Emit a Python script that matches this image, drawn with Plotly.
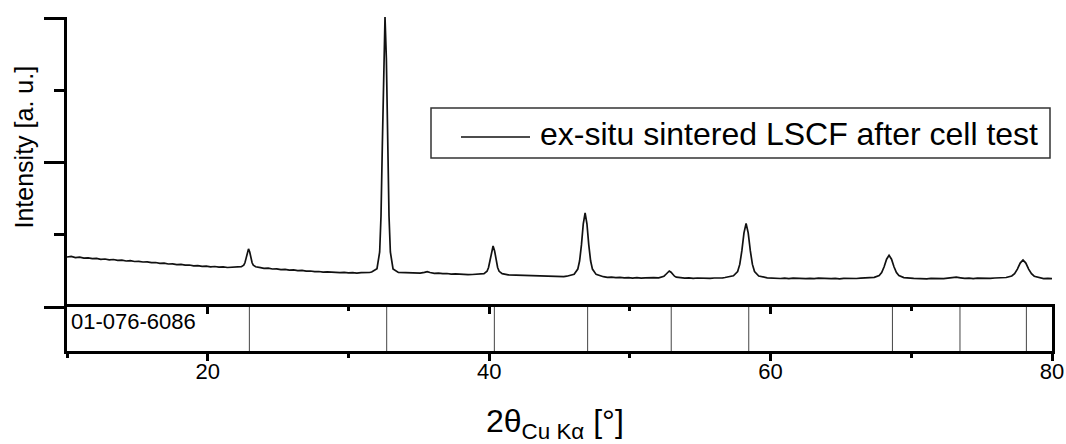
import plotly.graph_objects as go

# ---------------- data ----------------
# 2theta (deg) and intensity (arbitrary units; 0 = axis bottom, 290 = top of main peak)
two_theta = [
    10.0, 10.3, 10.6, 10.9, 11.2, 11.5, 11.8, 12.1, 12.4, 12.7, 13.0, 13.3, 13.6, 13.9, 14.2, 14.5,
    14.8, 15.1, 15.4, 15.7, 16.0, 16.3, 16.6, 16.9, 17.2, 17.5, 17.8, 18.1, 18.4, 18.7, 19.0, 19.3,
    19.6, 19.9, 20.2, 20.5, 20.8, 21.1, 21.4, 21.7, 22.05,
    22.39, 22.56, 22.645, 22.73, 22.815, 22.9, 22.985, 23.07, 23.155, 23.24, 23.41, 23.75,
    24.0, 24.3, 24.6, 24.9, 25.2, 25.5, 25.8, 26.1, 26.4, 26.7, 27.0, 27.3, 27.6, 27.9, 28.2, 28.5,
    28.8, 29.1, 29.4, 29.7, 30.0, 30.3, 30.6, 30.9, 31.2, 31.5,
    31.65, 32.03, 32.22, 32.315, 32.41, 32.505, 32.6, 32.695, 32.79, 32.885, 32.98, 33.17, 33.55,
    33.9, 34.2, 34.5, 34.8, 35.1, 35.4, 35.6, 35.8, 36.1, 36.4, 36.7, 37.0, 37.3, 37.6, 37.9, 38.2,
    38.5, 38.8,
    39.205, 39.635, 39.85, 39.9575, 40.065, 40.1725, 40.28, 40.3875, 40.495, 40.6025, 40.71, 40.925, 41.355,
    41.7, 42.0, 42.3, 42.6, 42.9, 43.2, 43.5, 43.8, 44.1, 44.4, 44.7, 45.0, 45.3,
    45.52, 46.04, 46.3, 46.43, 46.56, 46.69, 46.82, 46.95, 47.08, 47.21, 47.34, 47.6, 48.12,
    48.4, 48.7, 49.0, 49.3, 49.6, 49.9, 50.2, 50.5, 50.8, 51.1, 51.4, 51.7, 52.05,
    52.3, 52.425, 52.55, 52.675, 52.8, 52.925, 53.05, 53.175, 53.3, 53.55,
    53.9, 54.2, 54.5, 54.8, 55.1, 55.4, 55.7, 56.0, 56.3, 56.6,
    56.76, 57.36, 57.66, 57.81, 57.96, 58.11, 58.26, 58.41, 58.56, 58.71, 58.86, 59.16, 59.76,
    60.1, 60.4, 60.7, 61.0, 61.3, 61.6, 61.9, 62.2, 62.5, 62.8, 63.1, 63.4, 63.7, 64.0, 64.3, 64.6,
    64.9, 65.2, 65.5, 65.8, 66.1, 66.4,
    66.67, 67.37, 67.72, 67.895, 68.07, 68.245, 68.42, 68.595, 68.77, 68.945, 69.12, 69.47, 70.17,
    70.5, 70.8, 71.1, 71.4, 71.7, 72.0, 72.3, 72.6, 72.9, 73.2, 73.5, 73.8, 74.1, 74.4, 74.7, 75.0,
    75.3, 75.6,
    75.94, 76.74, 77.14, 77.34, 77.54, 77.74, 77.94, 78.14, 78.34, 78.54, 78.74, 79.14, 79.4, 79.7, 80.0,
]
intensity = [
    50.0, 50.6, 49.4, 49.8, 48.9, 49.2, 48.3, 48.6, 47.7, 48.0, 47.2, 47.5, 46.6, 46.8, 46.0, 46.3,
    45.5, 45.7, 45.0, 45.2, 44.3, 44.5, 43.7, 43.9, 43.0, 43.2, 42.4, 42.6, 41.8, 42.0, 41.1, 41.3,
    40.6, 40.8, 40.2, 40.5, 39.8, 40.1, 39.5, 39.8, 39.6,
    40.3, 41.8, 44.2, 48.9, 55.0, 58.1, 55.0, 48.9, 44.2, 41.8, 40.2, 39.3,
    38.6, 38.9, 38.0, 38.2, 37.4, 37.6, 36.9, 37.1, 36.4, 36.6, 35.8, 36.0, 35.3, 35.5, 34.9, 35.1,
    34.6, 34.8, 34.3, 34.6, 34.1, 34.4, 33.9, 34.3, 34.2, 34.5,
    35.0, 38.3, 55.0, 90.7, 162.0, 249.0, 290.0, 249.0, 162.0, 90.7, 55.0, 38.0, 34.6,
    34.4, 34.7, 34.1, 34.3, 33.9, 34.6, 35.4, 34.5, 33.7, 33.9, 33.3, 33.5, 32.9, 33.1, 32.6, 32.8,
    32.3, 32.5,
    32.6, 33.4, 35.7, 39.5, 46.7, 56.1, 61.0, 56.1, 46.7, 39.5, 35.7, 33.3, 32.2,
    32.0, 31.6, 31.9, 31.3, 31.5, 30.9, 31.2, 30.6, 30.9, 30.4, 30.6, 30.1, 30.4,
    30.8, 32.8, 37.9, 46.2, 62.1, 83.2, 94.0, 83.2, 62.1, 46.2, 37.9, 32.6, 30.3,
    29.6, 29.9, 29.3, 29.6, 29.1, 29.4, 28.9, 29.3, 28.8, 29.2, 28.9, 29.3, 29.2,
    29.9, 30.8, 32.5, 34.8, 36.0, 34.8, 32.5, 30.8, 29.8, 29.3,
    28.8, 29.1, 28.6, 29.0, 28.7, 29.1, 28.6, 29.0, 28.8, 29.2,
    29.5, 31.2, 35.5, 42.6, 56.3, 74.2, 83.5, 74.2, 56.3, 42.6, 35.5, 31.0, 29.2,
    28.7, 29.0, 28.5, 28.9, 28.4, 28.8, 28.5, 28.9, 28.4, 28.7, 28.3, 28.8, 28.4, 28.7, 28.3, 28.6,
    28.2, 28.7, 28.4, 28.8, 28.5, 28.9,
    28.9, 29.6, 31.5, 34.5, 40.2, 47.8, 51.7, 47.8, 40.2, 34.5, 31.4, 29.4, 28.6,
    28.3, 28.7, 28.2, 28.6, 28.3, 28.7, 28.4, 28.9, 29.3, 29.8, 29.2, 28.6, 28.9, 28.4, 28.8, 28.5,
    28.9, 28.6,
    29.0, 29.5, 31.0, 33.4, 37.9, 43.9, 47.0, 43.9, 37.9, 33.3, 30.8, 29.1, 28.4, 28.7, 28.3,
]

# reference pattern 01-076-6086 line positions (deg)
ref_positions = [22.96, 32.72, 40.37, 47.0, 52.94, 58.45, 68.66, 73.46, 78.18]
ref_label = "01-076-6086"
series_name = "ex-situ sintered LSCF after cell test"

x_ticks = [20, 40, 60, 80]
x_range = [10, 80]
y_range = [0, 290]

FONT = "Liberation Sans, Arial, sans-serif"

# ---------------- figure ----------------
fig = go.Figure()

fig.add_trace(go.Scatter(
    x=two_theta, y=intensity, mode="lines", name=series_name,
    line=dict(color="#111111", width=1.7), xaxis="x", yaxis="y", showlegend=False,
))

ref_x, ref_y = [], []
for p in ref_positions:
    ref_x += [p, p, None]
    ref_y += [0, 1, None]
fig.add_trace(go.Scatter(
    x=ref_x, y=ref_y, mode="lines", line=dict(color="#444444", width=1),
    xaxis="x2", yaxis="y2", showlegend=False, hoverinfo="skip",
))
# empty trace so the top (inward-tick) axis of the reference box is drawn
fig.add_trace(go.Scatter(x=[], y=[], mode="lines", xaxis="x3", yaxis="y2",
                         showlegend=False, hoverinfo="skip"))

W, H = 1066, 444
L, R, T, B = 67, 14, 17, 93
pw, ph = W - L - R, H - T - B
split = (351 - 307) / ph


def px(xp):
    return (xp - L) / pw


def py(yp):
    return (H - B - yp) / ph


axis_common = dict(showgrid=False, zeroline=False, color="black", automargin=False)
tick_style = dict(tickcolor="black", tickwidth=2.5)

fig.update_layout(
    width=W, height=H, autosize=False,
    margin=dict(l=L, r=R, t=T, b=B, pad=0),
    paper_bgcolor="white", plot_bgcolor="white",
    font=dict(family=FONT, color="black"),
    showlegend=False,
    xaxis=dict(domain=[0, 1], range=x_range, anchor="y", visible=False, **axis_common),
    yaxis=dict(
        domain=[split, 1], range=y_range, anchor="x",
        showline=True, linecolor="black", linewidth=3,
        ticks="outside", ticklen=20, tickwidth=3, tickcolor="black",
        tickmode="linear", tick0=0, dtick=144.5, showticklabels=False,
        minor=dict(ticks="outside", ticklen=10, tickwidth=3, tickcolor="black", dtick=72.25, tick0=0),
        **axis_common,
    ),
    # bottom line of the reference box with outward ticks and the tick labels
    xaxis2=dict(
        domain=[0, 1], range=x_range, anchor="y2",
        showline=True, linecolor="black", linewidth=3,
        ticks="outside", ticklen=7, tickmode="array", tickvals=x_ticks,
        ticktext=[str(t) for t in x_ticks], ticklabelstandoff=-8,
        tickfont=dict(size=22, family=FONT, color="black"),
        minor=dict(ticks="outside", ticklen=4, dtick=10, tick0=0, **tick_style),
        **tick_style, **axis_common,
    ),
    # top line of the reference box with inward ticks
    xaxis3=dict(
        range=x_range, anchor="y2", overlaying="x2", side="top",
        showline=True, linecolor="black", linewidth=3,
        ticks="inside", ticklen=7, tickmode="array", tickvals=x_ticks, showticklabels=False,
        minor=dict(ticks="inside", ticklen=4, dtick=10, tick0=0, **tick_style),
        **tick_style, **axis_common,
    ),
    yaxis2=dict(
        domain=[0, split], range=[0, 1], anchor="x2",
        showline=True, linecolor="black", linewidth=3, mirror=True,
        ticks="", showticklabels=False, **axis_common,
    ),
)

# legend (drawn box, sample line and text)
fig.add_shape(type="rect", xref="paper", yref="paper",
              x0=px(431), x1=px(1050), y0=py(158), y1=py(108),
              line=dict(color="#333333", width=1.5), fillcolor="white", layer="above")
fig.add_shape(type="line", xref="paper", yref="paper",
              x0=px(461), x1=px(530), y0=py(137), y1=py(137),
              line=dict(color="#111111", width=1.6), layer="above")

fig.add_annotation(text=series_name, xref="paper", yref="paper",
                   x=px(538), y=py(134), xanchor="left", yanchor="middle",
                   showarrow=False, font=dict(size=32, family=FONT, color="black"))

fig.add_annotation(text=ref_label, xref="paper", yref="paper",
                   x=px(69), y=py(321), xanchor="left", yanchor="middle",
                   showarrow=False, font=dict(size=22, family=FONT, color="black"))

fig.add_annotation(text="Intensity [a. u.]", xref="paper", yref="paper",
                   x=px(23), y=py(147.5), xanchor="center", yanchor="middle", textangle=-90,
                   showarrow=False, font=dict(size=25, family=FONT, color="black"))

fig.add_annotation(text="2θ<sub>Cu Kα</sub> [°]", xref="paper", yref="paper",
                   x=px(555), y=py(423), xanchor="center", yanchor="middle",
                   showarrow=False, font=dict(size=32, family=FONT, color="black"))

fig.write_html("out.html", config={"responsive": False})
